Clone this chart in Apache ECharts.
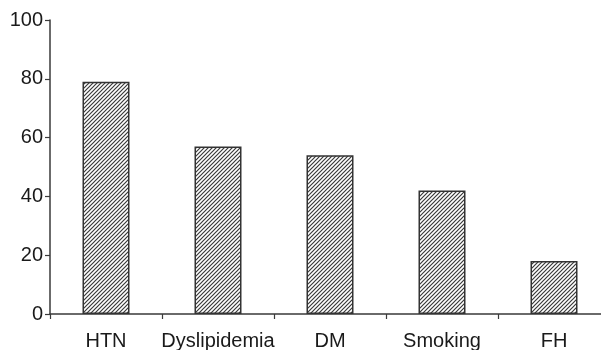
<!DOCTYPE html>
<html>
<head>
<meta charset="utf-8">
<script src="https://cdn.jsdelivr.net/npm/echarts@6/dist/echarts.min.js"></script>
<style>
html,body{margin:0;padding:0;background:#fff;}
#chart{width:601px;height:350px;}
</style>
</head>
<body>
<div id="chart"></div>
<script>
var categories = ['HTN', 'Dyslipidemia', 'DM', 'Smoking', 'FH'];
var values = [79, 57, 54, 42, 18];
var yTicks = [0, 20, 40, 60, 80, 100];

function makeHatch() {
  var s = 4;
  var c = document.createElement('canvas');
  c.width = s; c.height = s;
  var ctx = c.getContext('2d');
  ctx.fillStyle = '#ffffff';
  ctx.fillRect(0, 0, s, s);
  ctx.strokeStyle = '#3a3a3a';
  ctx.lineWidth = 1.2;
  ctx.beginPath();
  ctx.moveTo(-1, s + 1); ctx.lineTo(s + 1, -1);
  ctx.moveTo(-1, 1); ctx.lineTo(1, -1);
  ctx.moveTo(s - 1, s + 1); ctx.lineTo(s + 1, s - 1);
  ctx.stroke();
  return c;
}

var chart = echarts.init(document.getElementById('chart'), null, {renderer: 'canvas'});
var axisColor = '#3a3a3a';
var fontFam = 'Liberation Sans, Arial, Helvetica, sans-serif';
chart.setOption({
  animation: false,
  grid: {left: 50, top: 20, width: 560, bottom: 36, containLabel: false, outerBoundsMode: 'none'},
  xAxis: {
    type: 'category',
    data: categories,
    axisLine: {show: true, lineStyle: {color: axisColor, width: 1.5}},
    axisTick: {show: true, inside: false, length: 5, alignWithLabel: false, lineStyle: {color: axisColor, width: 1.2}},
    axisLabel: {color: '#1a1a1a', fontSize: 20, fontFamily: fontFam, margin: 17, interval: 0},
    splitLine: {show: false}
  },
  yAxis: {
    type: 'value',
    min: yTicks[0],
    max: yTicks[yTicks.length - 1],
    interval: yTicks[1] - yTicks[0],
    axisLine: {show: true, lineStyle: {color: axisColor, width: 1.5}},
    axisTick: {show: true, inside: false, length: 5, lineStyle: {color: axisColor, width: 1.2}},
    axisLabel: {color: '#1a1a1a', fontSize: 20, fontFamily: fontFam, margin: 7},
    splitLine: {show: false}
  },
  series: [{
    type: 'bar',
    data: values,
    barWidth: 47,
    itemStyle: {
      color: {image: makeHatch(), repeat: 'repeat'},
      borderColor: '#333333',
      borderWidth: 1.5
    }
  }]
});
</script>
</body>
</html>
